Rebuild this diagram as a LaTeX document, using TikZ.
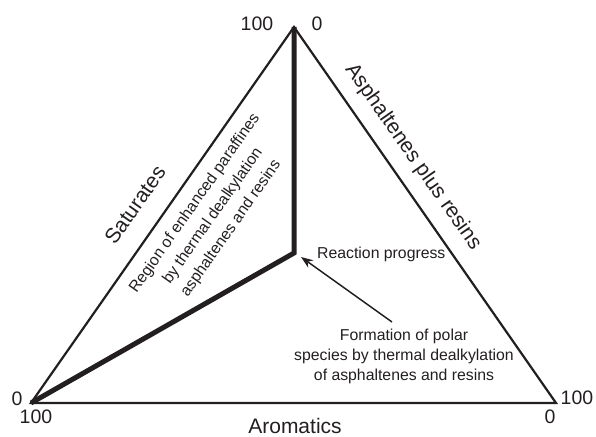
\documentclass[tikz,border=0pt]{standalone}
\usepackage{fontspec}
\setmainfont{Liberation Sans}
\usetikzlibrary{arrows.meta}
\definecolor{ink}{HTML}{231F20}
\tikzset{
  edge/.style={line width=2.2bp, draw=ink, line join=miter},
  path/.style={line width=5bp, draw=ink, line join=miter},
  axislabel/.style={text=ink, font=\fontsize{21bp}{25bp}\selectfont, inner sep=0pt},
  numlabel/.style={text=ink, font=\fontsize{19.5bp}{23bp}\selectfont, inner sep=0pt},
  note/.style={text=ink, font=\fontsize{15.8bp}{20bp}\selectfont, inner sep=0pt, align=center},
  pointer/.style={line width=1.5bp, draw=ink, -{Stealth[length=12bp,width=9bp]}}
}
\begin{document}
\begin{tikzpicture}[x=1bp,y=-1bp]
\useasboundingbox (0,0) rectangle (596,437);
% vertices
\coordinate (T) at (294,27);
\coordinate (L) at (31,403);
\coordinate (R) at (556,403);
\coordinate (P) at (294,253);
\coordinate (A) at (392,322);
\coordinate (H) at (301,257);
% triangle
\draw[edge] (T) -- (R) -- (L) -- cycle;
% reaction path
\draw[path] (L) -- (P) -- (T);
% vertex numbers
\node[numlabel] (t100) at (257,24) {100};
\node[numlabel] (t0) at (317,24) {0};
\node[numlabel] (l0) at (17,399) {0};
\node[numlabel] (l100) at (36,417) {100};
\node[numlabel] (r100) at (577,398) {100};
\node[numlabel] (r0) at (550,417) {0};
% axis labels
\node[axislabel] (aro) at (295,426) {Aromatics};
\node[axislabel, rotate=55] (sat) at (135,205) {Saturates};
\node[axislabel, rotate=-55] (asp) at (413,157) {Asphaltenes plus resins};
% notes
\node[note, rotate=55, font=\fontsize{15.8bp}{22bp}\selectfont] (region) at (213,216) {Region of enhanced paraffines\\by thermal dealkylation\\asphaltenes and resins};
\node[note, anchor=west] (rp) at (317,254) {Reaction progress};
\node[note] (form) at (404,356) {Formation of polar\\species by thermal dealkylation\\of asphaltenes and resins};
% arrow
\draw[pointer] (A) -- (H);
\end{tikzpicture}
\end{document}
